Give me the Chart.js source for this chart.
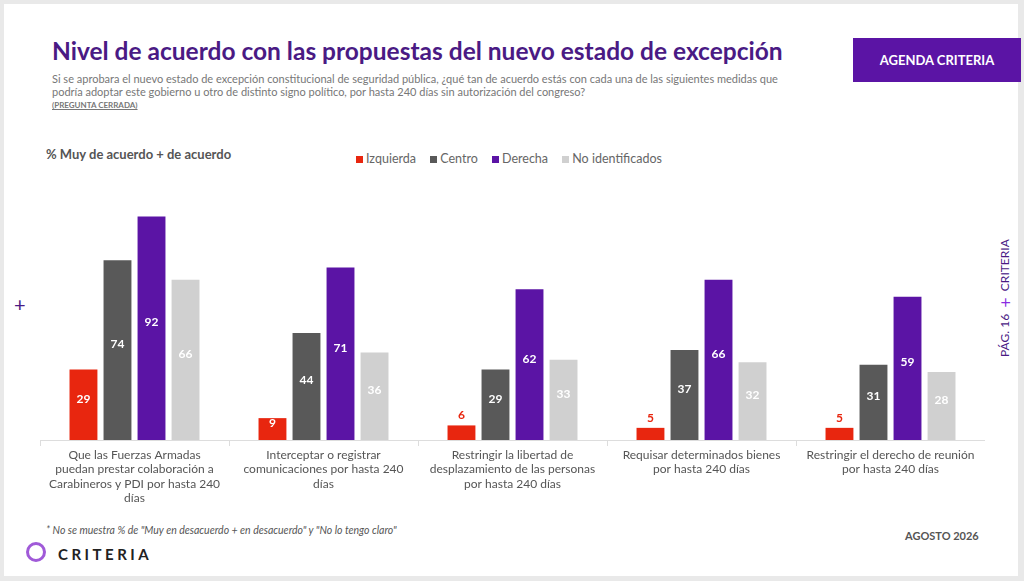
<!DOCTYPE html>
<html lang="es">
<head>
<meta charset="UTF-8">
<title>Nivel de acuerdo</title>
<script src="https://cdn.jsdelivr.net/npm/chart.js"></script>
<style>
    body { margin: 0; width: 1024px; height: 581px; background: #e9e9e9; font-family: Lato, "Open Sans", Arial; position: relative; overflow: hidden; }
    .page { position: absolute; left: 4px; top: 4px; width: 1014px; height: 572px; background: #fff; }
    .abs { position: absolute; }
    h1 { position: absolute; left: 52px; top: 36px; margin: 0; font-size: 24.5px; color: #4a1a84; font-weight: bold; }
    .sub { left: 52px; top: 73px; width: 740px; font-size: 11px; color: #777; line-height: 12.5px; }
    .sub u { font-size: 8px; font-weight: bold; }
    .badge { left: 853px; top: 38px; width: 168px; height: 44px; background: #5b14a5; color: #fff; font-weight: bold; font-size: 13px; display: flex; align-items: center; justify-content: center; }
    .ytitle { left: 46px; top: 146px; font-size: 13px; color: #555; font-weight: bold; }
    .legend { left: 356px; top: 151px; font-size: 12.5px; color: #666; }
    .legend span { display: inline-block; width: 7px; height: 7px; margin: 0 3px 0 0; }
    .legend b { font-weight: normal; margin-right: 11px; }
    .note { left: 46px; top: 524px; font-size: 10.5px; color: #555; font-style: italic; }
    .date { left: 905px; top: 529px; font-size: 11px; color: #555; font-weight: bold; }
    .logo { left: 58px; top: 545px; font-size: 15px; letter-spacing: 3.5px; color: #222; font-weight: bold; }
    .ring { left: 26px; top: 542px; width: 20px; height: 20px; border: 3px solid #a05ad8; border-radius: 50%; box-sizing: border-box; }
    .side { left: 994px; top: 228px; writing-mode: vertical-rl; transform: rotate(180deg); font-size: 12px; color: #4a1a84; height: 140px; text-align: center; }
</style>
</head>
<body>
<div class="page"></div>
<h1>Nivel de acuerdo con las propuestas del nuevo estado de excepción</h1>
<div class="abs sub">Si se aprobara el nuevo estado de excepción constitucional de seguridad pública, ¿qué tan de acuerdo estás con cada una de las siguientes medidas que podría adoptar este gobierno u otro de distinto signo político, por hasta 240 días sin autorización del congreso?<br><u>(PREGUNTA CERRADA)</u></div>
<div class="abs badge">AGENDA CRITERIA</div>
<div class="abs ytitle">% Muy de acuerdo + de acuerdo</div>
<div class="abs legend"><span style="background:#e8260f"></span><b>Izquierda</b> <span style="background:#595959"></span><b>Centro</b> <span style="background:#5b14a5"></span><b>Derecha</b> <span style="background:#d0d0d0"></span><b>No identificados</b></div>
<div class="abs" style="left:14px;top:292px;font-size:20px;color:#4a1a84">+</div>
<div class="abs side">PÁG. 16 &nbsp;<span style="font-size:18px;color:#8a2be2">+</span>&nbsp; CRITERIA</div>
<div class="abs" style="left:40px;top:170px;width:945px;height:350px"><canvas id="c"></canvas></div>
<div class="abs note">* No se muestra % de "Muy en desacuerdo + en desacuerdo"  y "No lo tengo claro"</div>
<div class="abs date">AGOSTO 2026</div>
<div class="abs ring"></div>
<div class="abs logo">CRITERIA</div>
<script>
const labels = [
    ["Que las Fuerzas Armadas", "puedan prestar colaboración a", "Carabineros y PDI por hasta 240", "días"],
    ["Interceptar o registrar", "comunicaciones por hasta 240", "días"],
    ["Restringir la libertad de", "desplazamiento de las personas", "por hasta 240 días"],
    ["Requisar determinados bienes", "por hasta 240 días"],
    ["Restringir el derecho de reunión", "por hasta 240 días"]
];
const series = {
    "Izquierda": { color: "#e8260f", data: [29, 9, 6, 5, 5] },
    "Centro": { color: "#595959", data: [74, 44, 29, 37, 31] },
    "Derecha": { color: "#5b14a5", data: [92, 71, 62, 66, 59] },
    "No identificados": { color: "#d0d0d0", data: [66, 36, 33, 32, 28] }
};

const valueLabels = {
    id: "valueLabels",
    afterDatasetsDraw(chart) {
        const ctx = chart.ctx;
        ctx.save();
        ctx.font = "bold 12px Lato, Arial";
        ctx.textAlign = "center";
        ctx.textBaseline = "middle";
        chart.data.datasets.forEach((ds, i) => {
            chart.getDatasetMeta(i).data.forEach((bar, j) => {
                const v = ds.data[j];
                if (v < 8) {
                    ctx.fillStyle = "#e8260f";
                    ctx.fillText(v, bar.x, bar.y - 10);
                } else {
                    ctx.fillStyle = "#fff";
                    ctx.fillText(v, bar.x, Math.min((bar.y + bar.base) / 2 - 6, bar.base - 12));
                }
            });
        });
        ctx.restore();
    }
};

new Chart(document.getElementById("c"), {
    type: "bar",
    data: {
        labels: labels,
        datasets: Object.keys(series).map(k => ({
            label: k,
            data: series[k].data,
            backgroundColor: series[k].color,
            categoryPercentage: 0.72,
            barPercentage: 0.82
        }))
    },
    options: {
        responsive: true,
        maintainAspectRatio: false,
        animation: false,
        layout: { padding: { top: 10, left: 0, right: 0 } },
        plugins: { legend: { display: false }, tooltip: { enabled: false } },
        scales: {
            y: { display: false, min: 0, max: 107 },
            x: {
                grid: { offset: true, color: "#dddddd", drawOnChartArea: false, drawTicks: true, tickLength: 6 },
                border: { color: "#dddddd" },
                ticks: { color: "#555", font: { size: 12, family: "Lato, Arial" }, maxRotation: 0, autoSkip: false, padding: 2 },
                afterFit(axis) { axis.height = 80; }
            }
        }
    },
    plugins: [valueLabels]
});
</script>
</body>
</html>
